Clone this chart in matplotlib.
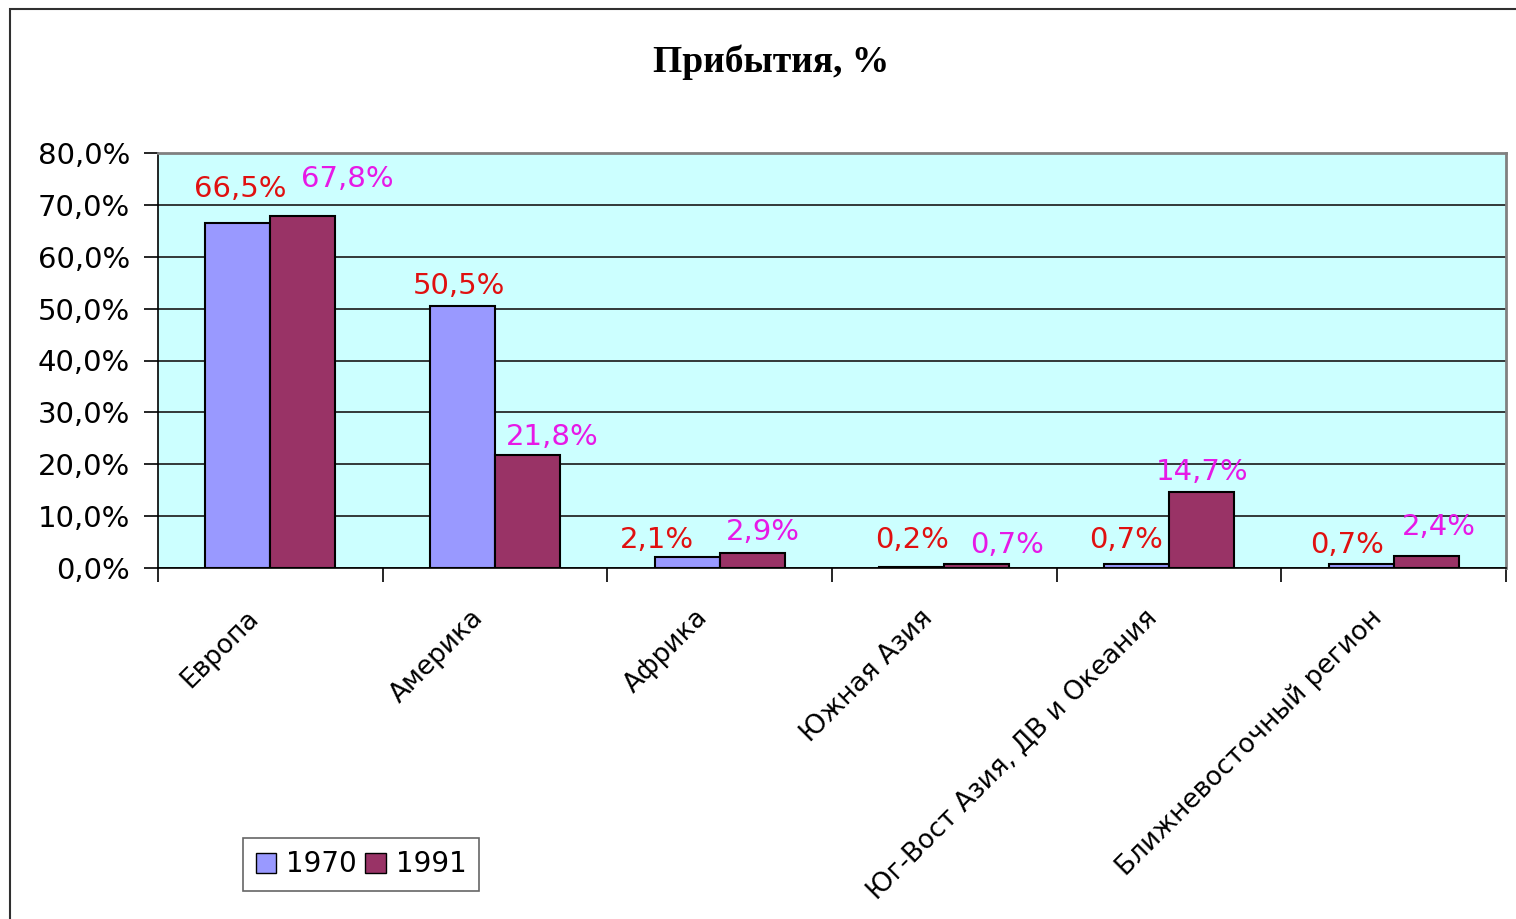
import matplotlib
matplotlib.use("Agg")
import matplotlib.pyplot as plt
import matplotlib.transforms as mtransforms
from matplotlib.patches import Patch, Rectangle
from matplotlib.ticker import FuncFormatter, FixedLocator
import numpy as np

# Data
regions = ["Европа", "Америка", "Африка", "Южная Азия",
           "Юг-Вост Азия, ДВ и Океания", "Ближневосточный регион"]
arrivals_1970 = [66.5, 50.5, 2.1, 0.2, 0.7, 0.7]
arrivals_1991 = [67.8, 21.8, 2.9, 0.7, 14.7, 2.4]
series_names = ["1970", "1991"]

# Label placement offsets (pixels) to mimic the hand-placed labels
offsets_1970 = [(2, 34), (-3, 20), (-30, 17), (0, 27), (-10, 24), (-14, 19)]
offsets_1991 = [(44, 37), (25, 18), (11, 21), (30, 19), (1, 20), (13, 29)]

c1970 = "#9999ff"
c1991 = "#993366"
red_lbl = "#e01010"
mag_lbl = "#e619e6"


def pct(v, pos=None):
    return f"{v:.1f}%".replace(".", ",")


fig = plt.figure(figsize=(15.16, 9.19), dpi=100)
fig.patch.set_facecolor("white")

# outer chart frame (only top/left visible in the original)
fig.patches.append(Rectangle((10 / 1516, -0.05), 1.1, 1 - 9 / 919 + 0.05,
                             transform=fig.transFigure, fill=False,
                             edgecolor="#303030", linewidth=1.5))

ax = fig.add_axes([158 / 1516, 1 - 568 / 919, (1506 - 158) / 1516, (568 - 153) / 919])
ax.set_facecolor("#ccffff")

x = np.arange(len(regions))
w = 0.29
b1 = ax.bar(x - w / 2, arrivals_1970, w, color=c1970, edgecolor="black",
            linewidth=1.5, zorder=3, label=series_names[0])
b2 = ax.bar(x + w / 2, arrivals_1991, w, color=c1991, edgecolor="black",
            linewidth=1.5, zorder=3, label=series_names[1])

for bars, vals, offs, col in [(b1, arrivals_1970, offsets_1970, red_lbl),
                              (b2, arrivals_1991, offsets_1991, mag_lbl)]:
    for bar, v, (dx, dy) in zip(bars, vals, offs):
        ax.annotate(pct(v), xy=(bar.get_x() + bar.get_width() / 2, v),
                    xytext=(dx, dy), textcoords="offset pixels",
                    ha="center", va="center", color=col, fontsize=21, zorder=4)

ax.set_xlim(-0.5, len(regions) - 0.5)
ax.set_ylim(0, 80)
ax.yaxis.set_major_locator(FixedLocator(np.arange(0, 81, 10)))
ax.yaxis.set_major_formatter(FuncFormatter(pct))
ax.grid(axis="y", color="#181818", linewidth=1.2, zorder=1)

ax.set_xticks(x)
ax.set_xticklabels(regions, rotation=45, ha="right", rotation_mode="anchor",
                   va="center", fontsize=19)
ax.set_xticks(np.arange(-0.5, len(regions)), minor=True)
ax.tick_params(axis="x", which="major", length=0, pad=33)
ax.tick_params(axis="x", which="minor", length=10, width=1.2, direction="out")
ax.tick_params(axis="y", length=10, width=1.2, direction="out", labelsize=21, pad=10)

shift = mtransforms.ScaledTranslation(-16 / 100, 0, fig.dpi_scale_trans)
for lbl in ax.get_xticklabels():
    lbl.set_transform(lbl.get_transform() + shift)

for side in ["top", "right"]:
    ax.spines[side].set_color("#808080")
    ax.spines[side].set_linewidth(2)
ax.spines["left"].set_color("black")
ax.spines["bottom"].set_color("black")
ax.spines["left"].set_linewidth(1.2)
ax.spines["bottom"].set_linewidth(1.2)

fig.text(771 / 1516, 1 - 62 / 919, "Прибытия, %", ha="center", va="center",
         fontsize=27, fontweight="bold", family="Liberation Serif")

handles = [Patch(facecolor=c1970, edgecolor="black"),
           Patch(facecolor=c1991, edgecolor="black")]
leg = fig.legend(handles, series_names, loc="lower left",
                 bbox_to_anchor=(243 / 1516, 1 - 891 / 919), ncol=2,
                 fontsize=20, frameon=True, fancybox=False, handlelength=0.75,
                 handleheight=0.75, handletextpad=0.35, columnspacing=0.3,
                 borderpad=0.45, borderaxespad=0)
leg.get_frame().set_edgecolor("#404040")
leg.get_frame().set_linewidth(1.2)

fig.savefig("out.png", dpi=100)
